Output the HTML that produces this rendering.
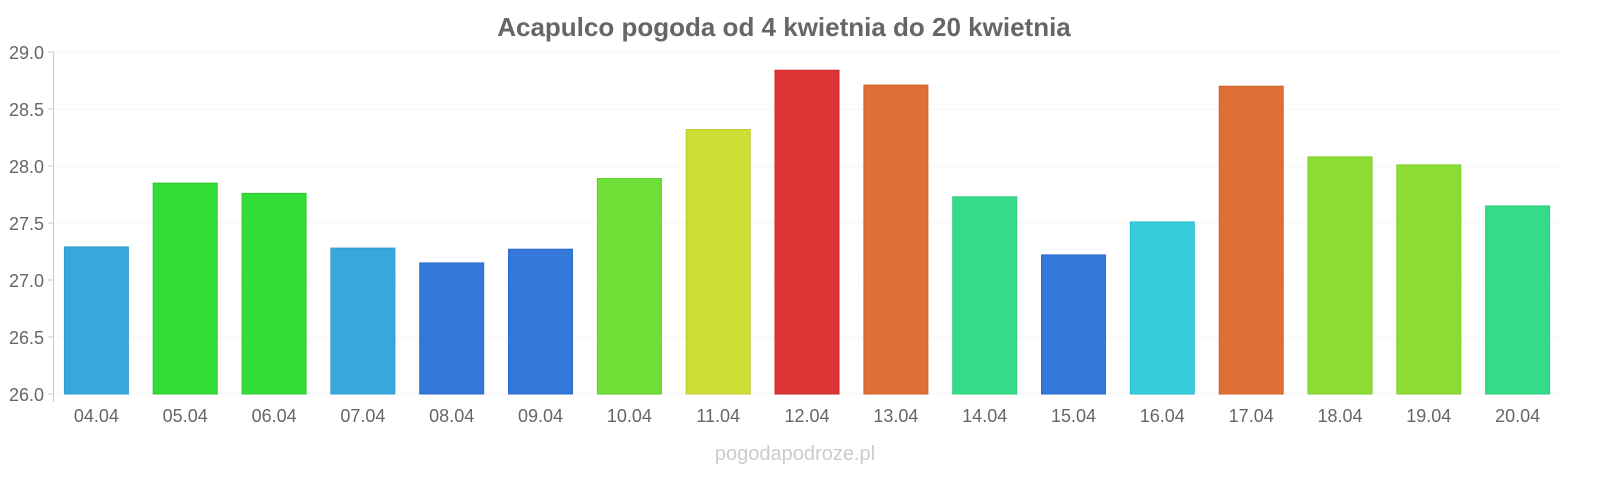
<!DOCTYPE html>
<html><head><meta charset="utf-8"><style>body{margin:0;background:#fff;overflow:hidden}</style></head><body>
<svg width="1600" height="480" xmlns="http://www.w3.org/2000/svg" font-family="Liberation Sans, sans-serif" style="display:block">
<text x="784" y="36" text-anchor="middle" font-size="26" font-weight="bold" fill="#666">Acapulco pogoda od 4 kwietnia do 20 kwietnia</text>
<g stroke="#eee" stroke-dasharray="2,2">
<line x1="53" x2="1562" y1="52" y2="52"/><line x1="53" x2="1562" y1="109" y2="109"/><line x1="53" x2="1562" y1="166" y2="166"/><line x1="53" x2="1562" y1="223" y2="223"/><line x1="53" x2="1562" y1="280" y2="280"/><line x1="53" x2="1562" y1="337" y2="337"/><line x1="53" x2="1562" y1="394" y2="394"/>
</g>
<g stroke="#ccc"><line x1="53.5" x2="53.5" y1="52" y2="402"/>
<line x1="48" x2="53" y1="52" y2="52"/><line x1="48" x2="53" y1="109" y2="109"/><line x1="48" x2="53" y1="166" y2="166"/><line x1="48" x2="53" y1="223" y2="223"/><line x1="48" x2="53" y1="280" y2="280"/><line x1="48" x2="53" y1="337" y2="337"/><line x1="48" x2="53" y1="394" y2="394"/></g>
<g font-size="18" fill="#666" text-anchor="end">
<text x="44" y="59">29.0</text><text x="44" y="116">28.5</text><text x="44" y="173">28.0</text><text x="44" y="230">27.5</text><text x="44" y="287">27.0</text><text x="44" y="344">26.5</text><text x="44" y="401">26.0</text></g>
<g stroke-width="1">
<rect x="64.4" y="246.9" width="64" height="147.1" fill="#36a8db" stroke="#2f9ccc"/>
<rect x="153.2" y="183.1" width="64" height="210.9" fill="#33dd38" stroke="#2bc930"/>
<rect x="242.1" y="193.4" width="64" height="200.6" fill="#33dd38" stroke="#2bc930"/>
<rect x="330.9" y="248.1" width="64" height="145.9" fill="#36a8db" stroke="#2f9ccc"/>
<rect x="419.7" y="262.9" width="64" height="131.1" fill="#3578dc" stroke="#2d6bcc"/>
<rect x="508.5" y="249.2" width="64" height="144.8" fill="#3578dc" stroke="#2d6bcc"/>
<rect x="597.4" y="178.5" width="64" height="215.5" fill="#6ddf36" stroke="#60cc2e"/>
<rect x="686.2" y="129.5" width="64" height="264.5" fill="#cede35" stroke="#bccb2d"/>
<rect x="775.0" y="70.2" width="64" height="323.8" fill="#db3535" stroke="#c92d2d"/>
<rect x="863.9" y="85.1" width="64" height="308.9" fill="#de7035" stroke="#cc632d"/>
<rect x="952.7" y="196.8" width="64" height="197.2" fill="#36db8a" stroke="#2ecc7c"/>
<rect x="1041.5" y="254.9" width="64" height="139.1" fill="#3578dc" stroke="#2d6bcc"/>
<rect x="1130.3" y="221.9" width="64" height="172.1" fill="#36cddb" stroke="#2ebccc"/>
<rect x="1219.2" y="86.2" width="64" height="307.8" fill="#de7035" stroke="#cc632d"/>
<rect x="1308.0" y="156.9" width="64" height="237.1" fill="#8bdd35" stroke="#7ecb2d"/>
<rect x="1396.8" y="164.9" width="64" height="229.1" fill="#8bdd35" stroke="#7ecb2d"/>
<rect x="1485.6" y="205.9" width="64" height="188.1" fill="#36db8a" stroke="#2ecc7c"/>
</g>
<g font-size="18" fill="#666" text-anchor="middle">
<text x="96.4" y="422">04.04</text><text x="185.2" y="422">05.04</text><text x="274.1" y="422">06.04</text><text x="362.9" y="422">07.04</text><text x="451.7" y="422">08.04</text><text x="540.5" y="422">09.04</text><text x="629.4" y="422">10.04</text><text x="718.2" y="422">11.04</text><text x="807.0" y="422">12.04</text><text x="895.9" y="422">13.04</text><text x="984.7" y="422">14.04</text><text x="1073.5" y="422">15.04</text><text x="1162.3" y="422">16.04</text><text x="1251.2" y="422">17.04</text><text x="1340.0" y="422">18.04</text><text x="1428.8" y="422">19.04</text><text x="1517.6" y="422">20.04</text>
</g>
<text x="795" y="460" text-anchor="middle" font-size="20" fill="#ccc">pogodapodroze.pl</text>
</svg>
</body></html>
